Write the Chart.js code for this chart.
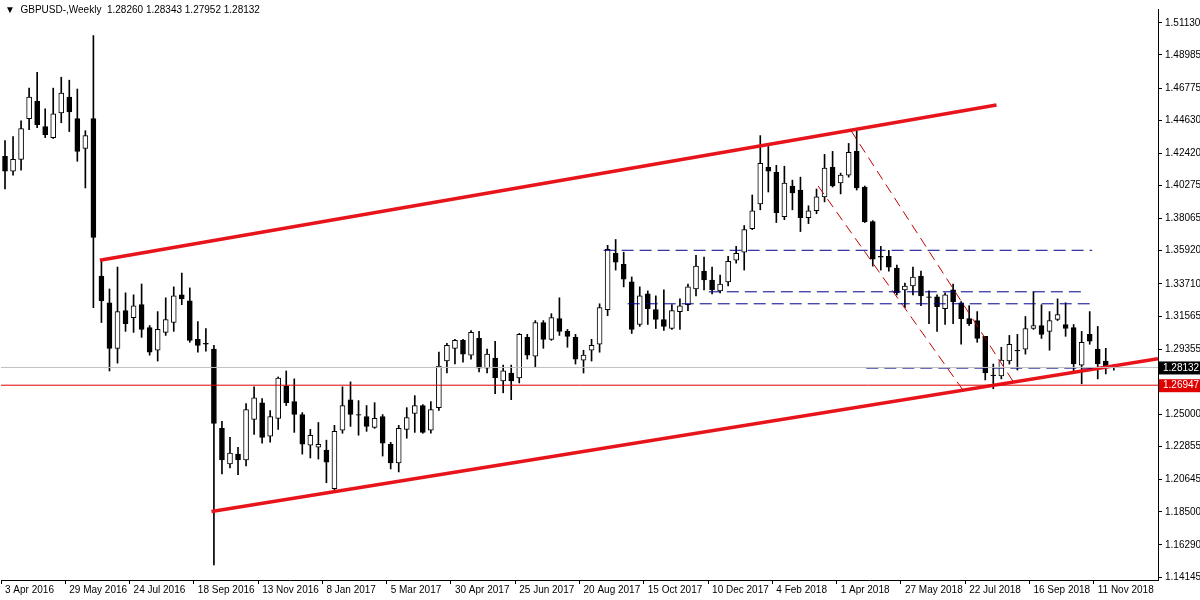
<!DOCTYPE html>
<html><head><meta charset="utf-8">
<script src="https://cdn.jsdelivr.net/npm/chart.js@4.4.1/dist/chart.umd.min.js"></script>
<style>
html,body{margin:0;padding:0;background:#fff;}
#wrap{position:relative;width:1200px;height:600px;}
#hdr{position:absolute;left:5px;top:4px;font:10px "Liberation Sans",sans-serif;color:#000;white-space:pre;}
</style></head><body>
<div id="wrap"><canvas id="c" width="1200" height="600"></canvas>
<div id="hdr">▼  GBPUSD-,Weekly  1.28260 1.28343 1.27952 1.28132</div></div>
<script>
const tickLabels=["3 Apr 2016","29 May 2016","24 Jul 2016","18 Sep 2016","13 Nov 2016","8 Jan 2017","5 Mar 2017","30 Apr 2017","25 Jun 2017","20 Aug 2017","15 Oct 2017","10 Dec 2017","4 Feb 2018","1 Apr 2018","27 May 2018","22 Jul 2018","16 Sep 2018","11 Nov 2018"];
const priceTicks=[1.51130,1.48985,1.46775,1.44630,1.42420,1.40275,1.38065,1.35920,1.33710,1.31565,1.29355,1.25000,1.22855,1.20645,1.18500,1.16290,1.14145];
// weekly candles: open, high, low, close
const opens=[1.4222,1.4123,1.4202,1.4473,1.4591,1.4420,1.4347,1.4512,1.4618,1.4473,1.4275,1.4473,1.3423,1.3245,1.2941,1.3192,1.3146,1.3232,1.3080,1.2928,1.3047,1.3113,1.3298,1.3258,1.3001,1.2974,1.2935,
1.2407,1.2169,1.2235,1.2196,1.2466,1.2578,1.2354,1.2473,1.2691,1.2585,1.2499,1.2295,1.2281,1.2262,1.2004,1.2394,1.2598,1.2499,1.2486,1.2413,1.2486,1.2301,1.2176,1.2400,1.2506,1.2559,1.2394,1.2545,
1.2856,1.2941,1.2994,1.2895,1.3007,1.2809,1.2875,1.2724,1.2776,1.2743,1.3014,1.2889,1.3113,1.3001,1.3139,1.3054,1.3014,1.2862,1.2928,1.2968,1.3199,1.3575,1.3502,
1.3384,1.3100,1.3304,1.3199,1.3133,1.3073,1.3186,1.3232,1.3337,1.3456,1.3397,1.3324,1.3384,1.3529,1.3582,1.3740,1.3905,1.4149,1.4116,1.3819,1.4024,1.3997,1.3813,1.3859,1.3951,1.4149,1.4044,1.4096,1.4255,1.4017,1.3786,1.3555,1.3555,
1.3476,1.3331,1.3357,1.3423,1.3285,1.3285,1.3205,1.3331,1.3245,1.3139,1.3126,1.3021,1.2763,1.2757,1.2856,1.2928,1.2935,1.3073,1.3093,1.3054,1.3133,1.3100,1.3080,1.2829,1.3034,1.2935,1.2856,1.28260];
const highs=[1.4327,1.4354,1.4459,1.4677,1.4783,1.4539,1.4677,1.4750,1.4730,1.4671,1.4393,1.5027,1.3529,1.3337,1.3483,1.3311,1.3298,1.3370,1.3093,1.3186,1.3278,1.3351,1.3443,1.3344,1.3120,1.3073,1.2961,
1.2453,1.2347,1.2281,1.2572,1.2684,1.2605,1.2526,1.2750,1.2790,1.2737,1.2512,1.2400,1.2446,1.2328,1.2427,1.2684,1.2717,1.2592,1.2559,1.2578,1.2499,1.2314,1.2427,1.2545,1.2625,1.2565,1.2585,1.2915,
1.2974,1.3001,1.3001,1.3060,1.3054,1.2935,1.2988,1.2829,1.2829,1.3040,1.3034,1.3126,1.3126,1.3172,1.3278,1.3067,1.3034,1.2928,1.3001,1.3238,1.3628,1.3667,1.3582,
1.3417,1.3351,1.3324,1.3291,1.3331,1.3232,1.3271,1.3370,1.3562,1.3549,1.3483,1.3430,1.3555,1.3621,1.3760,1.3964,1.4360,1.4288,1.4162,1.4156,1.4063,1.4083,1.3892,1.4004,1.4235,1.4255,1.4110,1.4308,1.4393,1.4024,1.3793,1.3621,1.3595,
1.3496,1.3377,1.3483,1.3456,1.3324,1.3298,1.3311,1.3370,1.3252,1.3225,1.3186,1.3021,1.2836,1.2948,1.3027,1.3034,1.3153,1.3318,1.3232,1.3186,1.3271,1.3245,1.3100,1.3054,1.3186,1.3087,1.2941,1.28343];
const lows=[1.4004,1.4096,1.4129,1.4400,1.4413,1.4347,1.4341,1.4446,1.4387,1.4189,1.4011,1.3212,1.3113,1.2790,1.2842,1.3054,1.3047,1.3014,1.2895,1.2856,1.3027,1.3054,1.3232,1.2981,1.2915,1.2922,1.1496,
1.2103,1.2143,1.2097,1.2156,1.2367,1.2308,1.2314,1.2400,1.2559,1.2380,1.2235,1.2209,1.2202,1.2044,1.1991,1.2374,1.2420,1.2361,1.2387,1.2407,1.2222,1.2136,1.2116,1.2341,1.2380,1.2374,1.2374,1.2526,
1.2776,1.2836,1.2849,1.2869,1.2783,1.2776,1.2638,1.2644,1.2598,1.2710,1.2869,1.2816,1.2941,1.2994,1.3027,1.2948,1.2836,1.2776,1.2856,1.2915,1.3159,1.3463,1.3351,
1.3040,1.3087,1.3100,1.3073,1.3060,1.3067,1.3067,1.3192,1.3291,1.3331,1.3304,1.3311,1.3357,1.3509,1.3463,1.3733,1.3865,1.3984,1.3780,1.3799,1.3865,1.3720,1.3773,1.3839,1.3918,1.4017,1.3971,1.4083,1.3997,1.3780,1.3489,1.3463,1.3456,
1.3298,1.3212,1.3298,1.3225,1.3106,1.3054,1.3100,1.3106,1.2968,1.3093,1.2981,1.2730,1.2671,1.2737,1.2836,1.2796,1.2902,1.3067,1.3007,1.2928,1.3126,1.3021,1.2790,1.2704,1.2968,1.2737,1.2770,1.27952];
const closes=[1.4123,1.4202,1.4407,1.4618,1.4433,1.4367,1.4506,1.4644,1.4519,1.4255,1.4360,1.3681,1.3258,1.2941,1.3186,1.3106,1.3225,1.3067,1.2915,1.3067,1.3133,1.3291,1.3271,1.2994,1.2961,1.2968,1.2440,
1.2196,1.2242,1.2196,1.2532,1.2611,1.2347,1.2486,1.2743,1.2578,1.2499,1.2301,1.2361,1.2301,1.2182,1.2387,1.2559,1.2499,1.2497,1.2420,1.2473,1.2308,1.2176,1.2407,1.2479,1.2559,1.2380,1.2532,1.2823,
1.2961,1.2994,1.2902,1.3047,1.2809,1.2902,1.2743,1.2790,1.2724,1.3034,1.2895,1.3113,1.3001,1.3146,1.3054,1.3021,1.2869,1.2895,1.2961,1.3212,1.3601,1.3516,1.3403,
1.3067,1.3291,1.3205,1.3133,1.3087,1.3192,1.3225,1.3351,1.3489,1.3397,1.3331,1.3370,1.3522,1.3575,1.3733,1.3859,1.4176,1.4123,1.3846,1.4044,1.3978,1.3813,1.3859,1.3951,1.4143,1.4024,1.4096,1.4248,1.4011,1.3786,1.3535,1.3549,1.3483,
1.3311,1.3357,1.3417,1.3291,1.3283,1.3219,1.3298,1.3252,1.3139,1.3106,1.3007,1.2776,1.2761,1.2862,1.2968,1.2926,1.3073,1.3093,1.3034,1.3126,1.3166,1.3073,1.2836,1.2981,1.2988,1.2836,1.2816,1.28132];
const emptyWeeks=5;
// trend lines [index, price]
const upperChannel=[[11.8,1.3529],[123.4,1.4565]];
const lowerChannel=[[25.7,1.1852],[143.5,1.2871]];
const dashRedA=[[105.3,1.4393],[125.5,1.2717]];
const dashRedB=[[101.2,1.4024],[119.2,1.2664]];
const blueLevels=[[74.5,135.3,1.3595],[87.6,134.5,1.3318],[77.5,135.1,1.3238],[107.2,135.3,1.2809]];
const lastPrice=1.28132, supportLevel=1.26947;

const n=opens.length+emptyWeeks;
const labels=[...Array(n).keys()];
const bodies=opens.map((o,i)=>{let c=closes[i];if(Math.abs(c-o)<0.0004){c=o+(c>=o?0.0004:-0.0004);}return [o,c];});
const wicks=lows.map((l,i)=>[l,highs[i]]);
const up=opens.map((o,i)=>closes[i]>=o);
const lineDs=(pts,color,w,dash)=>({type:'line',xAxisID:'x2',data:pts.map(p=>({x:p[0],y:p[1]})),borderColor:color,borderWidth:w,borderDash:dash||[],pointRadius:0,fill:false,order:0});
const datasets=[
 {type:'bar',data:wicks,backgroundColor:'#000',barThickness:1,grouped:false,order:3},
 {type:'bar',data:bodies,backgroundColor:up.map(u=>u?'#fff':'#000'),borderColor:'#000',borderWidth:1,borderSkipped:false,barThickness:5,grouped:false,order:2},
 lineDs([[-0.5,lastPrice],[n-0.5,lastPrice]],'#c0c0c0',1),
 lineDs([[-0.5,supportLevel],[n-0.5,supportLevel]],'#e00000',1),
 ...blueLevels.map(b=>lineDs([[b[0],b[2]],[b[1],b[2]]],'#00008b',1,[12,6])),
 lineDs(dashRedA,'#c00000',1,[10,6]),
 lineDs(dashRedB,'#c00000',1,[10,6]),
 lineDs(upperChannel,'#e8141c',3.5),
 lineDs(lowerChannel,'#e8141c',3.5),
];
const font={family:'Liberation Sans',size:10};
const tagPlugin={id:'tags',afterDraw(ch){const y=ch.scales.y,ctx=ch.ctx,x0=ch.chartArea.right+1;
 [[lastPrice,'#000'],[supportLevel,'#e00000']].forEach(([v,col])=>{const py=y.getPixelForValue(v);ctx.fillStyle=col;ctx.fillRect(x0,py-6,41,13);ctx.fillStyle='#fff';ctx.font='10px "Liberation Sans"';ctx.textBaseline='middle';ctx.textAlign='left';ctx.fillText(v.toFixed(5),x0+4,py+0.5);});}};
new Chart(document.getElementById('c'),{data:{labels,datasets},plugins:[tagPlugin],
options:{responsive:false,animation:false,layout:{padding:{left:1,top:2,right:0,bottom:0}},
plugins:{legend:{display:false},tooltip:{enabled:false}},
scales:{
 x:{type:'category',offset:true,grid:{drawOnChartArea:false,tickLength:4,color:'#000',tickColor:c=>c.index%8===0?'#000':'rgba(0,0,0,0)'},border:{color:'#000'},
   ticks:{autoSkip:false,maxRotation:0,align:'start',padding:0,color:'#000',font,callback:(v,i)=>i%8===0?tickLabels[i/8]:''},afterFit(s){s.height=20;}},
 x2:{type:'linear',display:false,min:-0.5,max:n-0.5},
 y:{position:'right',min:1.1395,max:1.5205,grid:{drawOnChartArea:false,tickLength:4,color:'#000'},border:{color:'#000'},
   afterBuildTicks(s){s.ticks=priceTicks.map(v=>({value:v}));},
   ticks:{color:'#000',font,padding:3,callback:v=>Number(v).toFixed(5)},afterFit(s){s.width=42;}}
}}});
</script></body></html>
